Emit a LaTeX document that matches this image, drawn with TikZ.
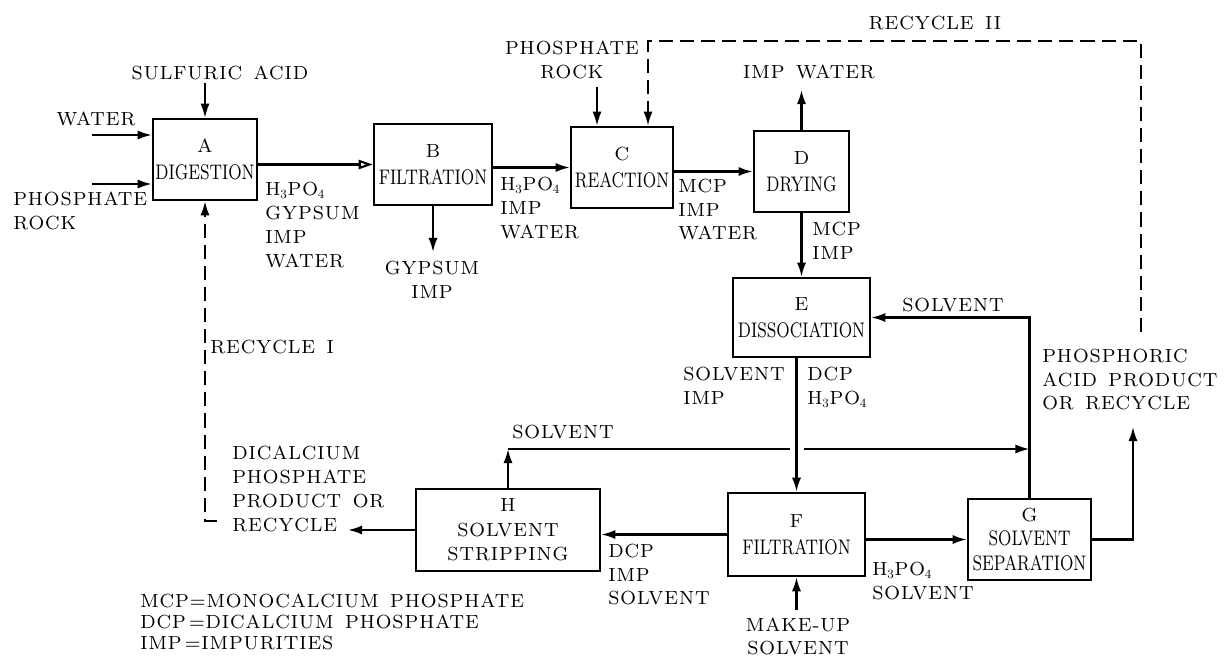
\documentclass[tikz,border=0pt]{standalone}
\usepackage{fontspec}
\setmainfont{lmroman8-regular.otf}[LetterSpace=5, WordSpace=1.5]
\newfontfamily\condfont{lmroman8-regular.otf}
\usepackage{graphicx}
\usepackage{tikz}
\usetikzlibrary{arrows.meta, calc}

\newcommand{\cond}[1]{\scalebox{0.77}[1]{\condfont\fontsize{15}{19}\selectfont #1}}

\begin{document}
\begin{tikzpicture}[x=0.025cm, y=-0.025cm]
    % Define styles
    \tikzstyle{unit} = [rectangle, draw, line width=1.8pt, align=center, inner sep=0pt, font=\fontsize{13.5}{19}\selectfont]
    \tikzstyle{stream} = [align=left, inner sep=0pt, anchor=north west, font=\fontsize{13.5}{17}\selectfont]
    \tikzstyle{tag} = [inner sep=0pt, font=\fontsize{13.5}{17}\selectfont]
    \tikzstyle{flow} = [line width=1.5pt, -{Latex[length=10pt, width=6.5pt]}]
    \tikzstyle{pipe} = [line width=1.5pt]
    \tikzstyle{recyc} = [line width=1.5pt, dash pattern=on 10pt off 5pt, -{Latex[length=10pt, width=6.5pt]}]

    \useasboundingbox (0,0) rectangle (1232,658);

    % Process units
    \node[unit, minimum width=2.6cm, minimum height=2.025cm] (digest) at (205,159.5) {A\\\cond{DIGESTION}};
    \node[unit, minimum width=2.95cm, minimum height=2.025cm] (filt) at (433,164.5) {B\\\cond{FILTRATION}};
    \node[unit, minimum width=2.55cm, minimum height=2.025cm] (react) at (622,167.5) {C\\\cond{REACTION}};
    \node[unit, minimum width=2.375cm, minimum height=2.025cm] (dry) at (801.5,171.5) {D\\\cond{DRYING}};
    \node[unit, minimum width=3.425cm, minimum height=1.975cm] (dissoc) at (801.5,317.5) {E\\\cond{DISSOCIATION}};
    \node[unit, minimum width=3.425cm, minimum height=2.075cm] (filtF) at (796.5,534.5) {F\\\cond{FILTRATION}};
    \node[unit, minimum width=3.075cm, minimum height=2.025cm, font=\fontsize{13.5}{17.5}\selectfont] (separ) at (1029.5,539.5) {G\\\cond{SOLVENT}\\\cond{SEPARATION}};
    \node[unit, minimum width=4.6cm, minimum height=2.05cm, font=\fontsize{13.5}{17.5}\selectfont] (strip) at (508,530) {H\\SOLVENT\\STRIPPING};

    % Free ends
    \coordinate (sulf) at (205,83);
    \coordinate (waterin) at (92,135);
    \coordinate (rockA) at (92,184);
    \coordinate (gyp) at (433,252);
    \coordinate (rockC) at (597,87);
    \coordinate (impw) at (801.5,90);
    \coordinate (makeup) at (796.5,610);
    \coordinate (phosout) at (1133,427);
    \coordinate (dcpout) at (348,530);
    \coordinate (solvup) at (508,449);
    \coordinate (rec1) at (217,521);
    \coordinate (rec2) at (1141,332);
    \coordinate (rec2top) at (648,41);

    % Main streams
    \draw[flow] (sulf) -- (digest.north);
    \draw[flow] (waterin) -- (waterin -| digest.west);
    \draw[flow] (rockA) -- (rockA -| digest.west);
    \draw[line width=1.5pt, -{Triangle[open, length=10pt, width=6.5pt]}] (filt.west -| digest.east) -- (filt.west);
    \draw[flow] (filt.south) -- (gyp);
    \draw[flow] (react.west -| filt.east) -- (react.west);
    \draw[flow] (rockC) -- (rockC |- react.north);
    \draw[flow] (dry.west -| react.east) -- (dry.west);
    \draw[flow] (dry.north) -- (impw);
    \draw[flow] (dry.south) -- (dry.south |- dissoc.north);
    \draw[flow] (filtF.north |- dissoc.south) -- (filtF.north);
    \draw[flow] (makeup) -- (filtF.south);
    \draw[flow] (filtF.west) -- (filtF.west -| strip.east);
    \draw[flow] (strip.west) -- (dcpout);
    \draw[flow] (separ.west -| filtF.east) -- (separ.west);
    \draw[flow] (separ.north) |- (dissoc.east);
    \draw[flow] (separ.east) -| (phosout);

    % Solvent loop from H (broken where it crosses E-F)
    \draw[flow] (strip.north) -- (solvup);
    \draw[pipe] (solvup) -- ($(solvup -| filtF.north)+(-7,0)$);
    \draw[flow] ($(solvup -| filtF.north)+(7,0)$) -- (solvup -| separ.north);

    % Recycles
    \draw[recyc] (rec1) -| (digest.south);
    \draw[recyc] (rec2) |- (rec2top) -- (rec2top |- react.north);

    % Stream labels
    \node[tag] (tsulf) at (220,73) {SULFURIC ACID};
    \node[tag] (twater) at (96,119) {WATER};
    \node[stream] (trockA) at (13,191.5) {PHOSPHATE\\ROCK};
    \node[stream] (tab) at (265,182) {H$_3$PO$_4$\\GYPSUM\\IMP\\WATER};
    \node[stream, anchor=north, align=center] (tgyp) at (432,260.5) {GYPSUM\\IMP};
    \node[stream] (tbc) at (500,177) {H$_3$PO$_4$\\IMP\\WATER};
    \node[stream, anchor=north, align=center] (trockC) at (572,40.5) {PHOSPHATE\\ROCK};
    \node[stream] (tcd) at (678,178.5) {MCP\\IMP\\WATER};
    \node[tag] (timpw) at (809,72) {IMP WATER};
    \node[tag] (trec2) at (935,23) {RECYCLE II};
    \node[stream] (tde) at (812,221.5) {MCP\\IMP};
    \node[tag] (tsolvE) at (953,305) {SOLVENT};
    \node[stream] (tphos) at (1042,348.5) {PHOSPHORIC\\ACID PRODUCT\\OR RECYCLE};
    \node[stream] (tefl) at (683,366.5) {SOLVENT\\IMP};
    \node[stream] (tefr) at (807,366.5) {DCP\\H$_3$PO$_4$};
    \node[tag, anchor=west] (trec1) at (210,347) {RECYCLE I};
    \node[tag, anchor=west] (tsolvH) at (512,432) {SOLVENT};
    \node[stream] (tdcp) at (232,445.5) {DICALCIUM\\PHOSPHATE\\PRODUCT OR\\RECYCLE};
    \node[stream] (tfh) at (608,543.5) {DCP\\IMP\\SOLVENT};
    \node[stream, anchor=north, align=center, font=\fontsize{13.5}{16.5}\selectfont] (tmake) at (798,617.5) {MAKE-UP\\SOLVENT};
    \node[stream] (tfg) at (872,561.5) {H$_3$PO$_4$\\SOLVENT};

    % Legend
    \node[stream, font=\fontsize{13.5}{15}\selectfont] (legend) at (140,593.5) {MCP=MONOCALCIUM PHOSPHATE\\DCP\,=DICALCIUM PHOSPHATE\\IMP\,=IMPURITIES};

\end{tikzpicture}
\end{document}
